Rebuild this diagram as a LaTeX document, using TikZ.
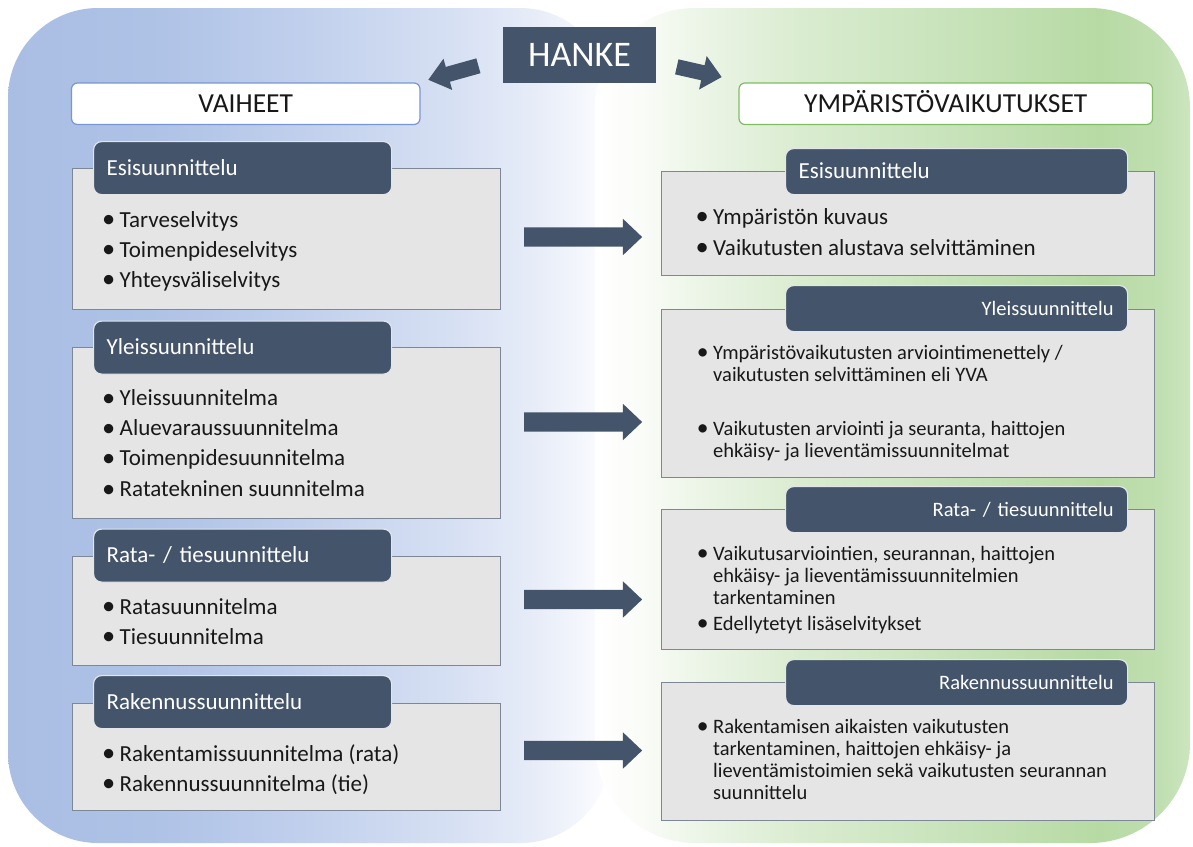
\documentclass[tikz,border=0pt]{standalone}
\usepackage{fontspec}
\usepackage{graphicx}
\setmainfont{Carlito}
\usetikzlibrary{shapes.arrows}
\definecolor{slate}{RGB}{68,84,106}
\definecolor{boxfill}{RGB}{229,229,230}
\definecolor{boxline}{RGB}{125,135,150}
\definecolor{txt}{RGB}{24,24,24}
\definecolor{blueline}{RGB}{120,150,212}
\definecolor{greenline}{RGB}{128,188,100}
\definecolor{lbA}{RGB}{170,190,228}
\definecolor{lbB}{RGB}{174,194,230}
\definecolor{lbC}{RGB}{192,207,236}
\definecolor{lbD}{RGB}{214,224,243}
\definecolor{lbE}{RGB}{232,237,248}
\definecolor{lbF}{RGB}{250,251,254}
\definecolor{gbA}{RGB}{250,252,248}
\definecolor{gbB}{RGB}{236,245,231}
\definecolor{gbC}{RGB}{218,236,208}
\definecolor{gbD}{RGB}{200,227,187}
\definecolor{gbE}{RGB}{183,218,164}
\definecolor{gbF}{RGB}{192,223,176}
\definecolor{gbG}{RGB}{204,229,191}
\pgfdeclarehorizontalshading{leftbg}{100bp}{color(0bp)=(lbA); color(25bp)=(lbA); color(36.8bp)=(lbB); color(49.3bp)=(lbC); color(61.7bp)=(lbD); color(69.2bp)=(lbE); color(74.2bp)=(lbF); color(75bp)=(white); color(100bp)=(white)}
\pgfdeclarehorizontalshading{rightbg}{100bp}{color(0bp)=(white); color(25bp)=(white); color(28.8bp)=(gbA); color(33.8bp)=(gbB); color(42.2bp)=(gbC); color(54.8bp)=(gbD); color(67.4bp)=(gbE); color(72.5bp)=(gbF); color(75bp)=(gbG); color(100bp)=(gbG)}
\newcommand\bul{\leavevmode\llap{\raisebox{-0.04em}{\scalebox{1.15}{\textbullet}}\hspace{4.5pt}}}
\tikzset{
  cbox/.style={draw=boxline, line width=1.3pt, fill=boxfill, inner sep=0pt, anchor=north west},
  tabL/.style={fill=slate, draw=white!85!slate, line width=1.2pt, rounded corners=8pt, anchor=north west,
    minimum width=298pt, minimum height=53pt, inner xsep=13pt, inner ysep=0pt, text width=272pt,
    align=left, text=white, font=\fontsize{23}{27}\selectfont, text height=14.5pt, text depth=0pt},
  tabR/.style={fill=slate, draw=white!85!slate, line width=1.2pt, rounded corners=8pt, anchor=north west,
    minimum width=342pt, minimum height=46pt, inner xsep=14pt, inner ysep=0pt, text width=314pt,
    align=right, text=white, font=\fontsize{20.5}{24}\selectfont, text height=13pt, text depth=0pt},
  lst/.style={inner sep=0pt, anchor=base west, text=txt},
  hdr/.style={fill=white, line width=1.2pt, rounded corners=6pt, minimum height=41.5pt, inner sep=0pt,
    text=txt, font=\fontsize{27.5}{30}\selectfont, text height=17.4pt, text depth=0pt},
  barrow/.style={single arrow, fill=slate, draw=none, inner xsep=0pt, single arrow head indent=0pt, anchor=center},
}
\begin{document}
\begin{tikzpicture}[x=1pt,y=-1pt]
\useasboundingbox (0,0) rectangle (1193,846);
\fill[white] (0,0) rectangle (1193,846);
% background panels
\shade[shading=leftbg, rounded corners=90pt] (8,8) rectangle (610,843);
\shade[shading=rightbg, rounded corners=100pt] (595,8) rectangle (1190,843);

% HANKE
\node[fill=slate, minimum width=153pt, minimum height=56pt, inner sep=0pt, text=white,
  font=\fontsize{36}{40}\selectfont, text height=22.7pt, text depth=0pt] (hanke) at (579.5,55) {HANKE};
\node[barrow, inner ysep=7.5pt, minimum height=52pt, minimum width=32pt, single arrow head extend=8.5pt,
  single arrow tip angle=77.3, rotate=195.6] (ha1) at (458,71.5) {};
\node[barrow, inner ysep=7.5pt, minimum height=46pt, minimum width=34pt, single arrow head extend=9.5pt,
  single arrow tip angle=83.6, rotate=-12.8] (ha2) at (695,71) {};

% headers
\node[hdr, draw=blueline, minimum width=348.5pt] (vaiheet) at (245.75,103.75) {VAIHEET};
\node[hdr, draw=greenline, minimum width=413.5pt] (ymp) at (945.75,103.75) {YMPÄRISTÖVAIKUTUKSET};

% left boxes
\node[cbox, minimum width=428.5pt, minimum height=141pt] (L1) at (71.5,168) {};
\node[cbox, minimum width=428.5pt, minimum height=171pt] (L2) at (71.5,347) {};
\node[cbox, minimum width=428.5pt, minimum height=109pt] (L3) at (71.5,556) {};
\node[cbox, minimum width=428.5pt, minimum height=107pt] (L4) at (71.5,703) {};
\node[tabL] (LT1) at (93,141) {Esisuunnittelu};
\node[tabL] (LT2) at (93,320.5) {Yleissuunnittelu};
\node[tabL] (LT3) at (93,528.5) {Rata- / tiesuunnittelu};
\node[tabL] (LT4) at (93,675) {Rakennussuunnittelu};

\node[lst] (Lt1) at (119.5,227) {\parbox[t]{360pt}{\fontsize{23}{30}\selectfont
  \bul Tarveselvitys\par\bul Toimenpideselvitys\par\bul Yhteysväliselvitys}};
\node[lst] (Lt2) at (119.5,405.5) {\parbox[t]{360pt}{\fontsize{23}{30.2}\selectfont
  \bul Yleissuunnitelma\par\bul Aluevaraussuunnitelma\par\bul Toimenpidesuunnitelma\par\bul Ratatekninen suunnitelma}};
\node[lst] (Lt3) at (119.5,614) {\parbox[t]{360pt}{\fontsize{23}{30}\selectfont
  \bul Ratasuunnitelma\par\bul Tiesuunnitelma}};
\node[lst] (Lt4) at (119.5,761) {\parbox[t]{360pt}{\fontsize{23}{30}\selectfont
  \bul Rakentamissuunnitelma (rata)\par\bul Rakennussuunnitelma (tie)}};

% right boxes
\node[cbox, minimum width=493pt, minimum height=104pt] (R1) at (660.5,171) {};
\node[cbox, minimum width=493pt, minimum height=168pt] (R2) at (660.5,309) {};
\node[cbox, minimum width=493pt, minimum height=140pt] (R3) at (660.5,509) {};
\node[cbox, minimum width=493pt, minimum height=138pt] (R4) at (660.5,682) {};
\node[tabR, align=left, inner xsep=13pt, text width=316pt, font=\fontsize{23}{27}\selectfont, text height=14.5pt] (RT1) at (785,148) {Esisuunnittelu};
\node[tabR] (RT2) at (785,285) {Yleissuunnittelu};
\node[tabR] (RT3) at (785,486) {Rata- / tiesuunnittelu};
\node[tabR] (RT4) at (785,659) {Rakennussuunnittelu};

\node[lst] (Rt1) at (713,224) {\parbox[t]{420pt}{\fontsize{23}{31}\selectfont
  \bul Ympäristön kuvaus\par\bul Vaikutusten alustava selvittäminen}};
\node[lst] (Rt2) at (713,359) {\parbox[t]{420pt}{\fontsize{20.5}{22}\selectfont
  \bul Ympäristövaikutusten arviointimenettely /\\ vaikutusten selvittäminen eli YVA\par\vspace{32pt}%
  \bul Vaikutusten arviointi ja seuranta, haittojen\\ ehkäisy- ja lieventämissuunnitelmat}};
\node[lst] (Rt3) at (713,560) {\parbox[t]{420pt}{\fontsize{20.5}{22}\selectfont
  \bul Vaikutusarviointien, seurannan, haittojen\\ ehkäisy- ja lieventämissuunnitelmien\\ tarkentaminen\par\vspace{4pt}%
  \bul Edellytetyt lisäselvitykset}};
\node[lst] (Rt4) at (713,733) {\parbox[t]{420pt}{\fontsize{20.5}{22.2}\selectfont
  \bul Rakentamisen aikaisten vaikutusten\\ tarkentaminen, haittojen ehkäisy- ja\\ lieventämistoimien sekä vaikutusten seurannan\\ suunnittelu}};

% block arrows between columns
\foreach \yy/\nm in {237/A1, 422/A2, 599.5/A3, 750.5/A4}{
  \node[barrow, inner ysep=9.5pt, minimum height=118pt, minimum width=36pt, single arrow head extend=8.5pt,
    single arrow tip angle=87] (\nm) at (578,\yy) {};
}
\end{tikzpicture}
\end{document}
